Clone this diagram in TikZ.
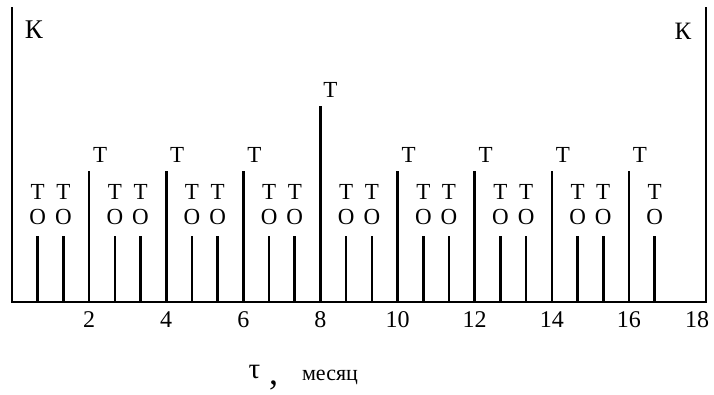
\documentclass[tikz,border=0pt]{standalone}
\usepackage{fontspec}
\setmainfont{Liberation Serif}
\tikzset{
  bar/.style={line width=2.6pt},
  lbl/.style={inner sep=0pt, font=\fontsize{23}{23}\selectfont},
  num/.style={inner sep=0pt, font=\fontsize{24}{24}\selectfont},
}
\begin{document}
\begin{tikzpicture}[x=1pt,y=1pt]
\useasboundingbox (0,0) rectangle (714,394);
% horizontal scale: 0 months at x=12, 18 months at x=706
\def\xo{12}
\def\u{38.56}
% frame: axis and the two outer posts
\coordinate (o) at (\xo,92);
\coordinate (e) at (706,92);
\coordinate (otop) at (\xo,386);
\coordinate (etop) at (706,386);
\draw[bar, line cap=rect] (otop) -- (o) -- (e) -- (etop);
\node[lbl, font=\fontsize{27}{27}\selectfont] (kl) at (34,364) {К};
\node[lbl, font=\fontsize{25}{25}\selectfont] (kr) at (683,363) {К};
% short posts every 2/3 month
\foreach \k in {1,2,4,5,7,8,10,11,13,14,16,17,19,20,22,23,25} {
  \coordinate (sb\k) at ({\xo+\u*2*\k/3},92);
  \coordinate (st\k) at ({\xo+\u*2*\k/3},158);
  \draw[bar] (sb\k) -- (st\k);
  \node[lbl] (so\k) at ({\xo+\u*2*\k/3},177) {О};
  \node[lbl] (stt\k) at ({\xo+\u*2*\k/3},202) {Т};
}
% medium posts every 2 months
\foreach \m in {2,4,6,10,12,14,16} {
  \coordinate (mb\m) at ({\xo+\u*\m},92);
  \coordinate (mt\m) at ({\xo+\u*\m},223);
  \draw[bar] (mb\m) -- (mt\m);
  \node[lbl] (mtt\m) at ({\xo+\u*\m+11},239) {Т};
}
% tall post at 8 months
\coordinate (hb) at ({\xo+\u*8},92);
\coordinate (ht) at ({\xo+\u*8},288);
\draw[bar] (hb) -- (ht);
\node[lbl] (htt) at ({\xo+\u*8+10},304) {Т};
% axis numbers
\foreach \m in {2,4,...,16} {
  \node[num] (n\m) at ({\xo+\u*\m},74) {\m};
}
\node[num] (n18) at (697,74) {18};
% axis caption
\node[inner sep=0pt, font=\fontsize{29}{29}\selectfont] (tau) at (254.5,22) {τ};
\node[inner sep=0pt, font=\fontsize{36}{36}\selectfont] (comma) at (273.5,9) {,};
\node[inner sep=0pt, font=\fontsize{22}{22}\selectfont] (unit) at (330,17) {месяц};
\end{tikzpicture}
\end{document}
